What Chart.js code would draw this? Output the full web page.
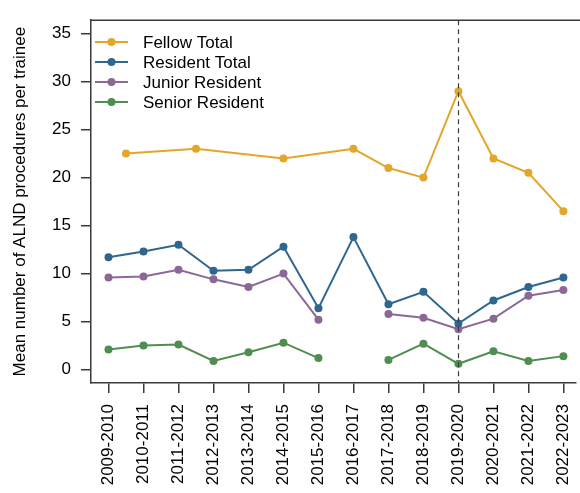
<!DOCTYPE html>
<html>
<head>
<meta charset="utf-8">
<script src="https://cdn.jsdelivr.net/npm/chart.js@4.4.0/dist/chart.umd.min.js"></script>
<style>
    html, body { margin: 0; padding: 0; background: #fff; }
    #wrap { width: 580px; height: 493px; }
</style>
</head>
<body>
<div id="wrap"><canvas id="chart" width="580" height="493"></canvas></div>
<script>
const categories = ['2009-2010', '2010-2011', '2011-2012', '2012-2013', '2013-2014', '2014-2015', '2015-2016',
    '2016-2017', '2017-2018', '2018-2019', '2019-2020', '2020-2021', '2021-2022', '2022-2023'];

// fellow points sit between some years in the source figure
const fellowPos = [0.5, 2.5, 5, 7, 8, 9, 10, 11, 12, 13];
const fellowTotal = [22.5, 23, 22, 23, 21, 20, 29, 22, 20.5, 16.5];

const residentTotal = [11.7, 12.3, 13.0, 10.3, 10.4, 12.8, 6.4, 13.8, 6.8, 8.1, 4.8, 7.2, 8.6, 9.6];
const juniorResident = [9.6, 9.7, 10.4, 9.4, 8.6, 10.0, 5.2, null, 5.8, 5.4, 4.2, 5.3, 7.7, 8.3];
const seniorResident = [2.1, 2.5, 2.6, 0.9, 1.8, 2.8, 1.2, null, 1.0, 2.7, 0.6, 1.9, 0.9, 1.4];

const yTicks = [0, 5, 10, 15, 20, 25, 30, 35];
const markerYear = '2019-2020';

const toPoints = (vals, pos) => vals.map((v, i) => ({ x: pos ? pos[i] : i, y: v }));

Chart.defaults.font.family = "'Liberation Sans', Arial, sans-serif";
Chart.defaults.color = '#000';

const AXIS = '#3a3a3a';

// top frame line, covid marker and the inset legend
const extras = {
    id: 'extras',
    afterDraw(chart) {
        const { ctx, chartArea } = chart;
        const x = chart.scales.x;

        ctx.save();
        ctx.strokeStyle = AXIS;
        ctx.lineWidth = 1.5;
        ctx.beginPath();
        ctx.moveTo(chartArea.left, chartArea.top);
        ctx.lineTo(580, chartArea.top);
        ctx.stroke();

        const mx = Math.round(x.getPixelForValue(categories.indexOf(markerYear))) + 0.5;
        ctx.setLineDash([5, 4]);
        ctx.lineWidth = 1.2;
        ctx.beginPath();
        ctx.moveTo(mx, chartArea.top);
        ctx.lineTo(mx, chartArea.bottom);
        ctx.stroke();
        ctx.setLineDash([]);

        ctx.font = "17px 'Liberation Sans', Arial, sans-serif";
        ctx.textBaseline = 'middle';
        ctx.textAlign = 'left';
        chart.data.datasets.forEach((ds, i) => {
            const y = 42 + i * 20;
            ctx.strokeStyle = ds.borderColor;
            ctx.lineWidth = 2;
            ctx.beginPath();
            ctx.moveTo(95, y);
            ctx.lineTo(128, y);
            ctx.stroke();
            ctx.fillStyle = ds.borderColor;
            ctx.beginPath();
            ctx.arc(111.5, y, 4, 0, Math.PI * 2);
            ctx.fill();
            ctx.fillStyle = '#000';
            ctx.fillText(ds.label, 143, y + 1);
        });
        ctx.restore();
    }
};

function series(label, data, color) {
    return {
        label, data,
        borderColor: color,
        backgroundColor: color,
        borderWidth: 2,
        pointRadius: 4,
        pointBorderWidth: 0,
        pointBackgroundColor: color,
        tension: 0,
        spanGaps: false
    };
}

new Chart(document.getElementById('chart'), {
    type: 'line',
    data: {
        datasets: [
            series('Fellow Total', toPoints(fellowTotal, fellowPos), '#E2A62B'),
            series('Resident Total', toPoints(residentTotal), '#2F6690'),
            series('Junior Resident', toPoints(juniorResident), '#8C6896'),
            series('Senior Resident', toPoints(seniorResident), '#4F8D50')
        ]
    },
    options: {
        responsive: false,
        animation: false,
        devicePixelRatio: 1,
        layout: { padding: { top: 20, right: 0, left: 0, bottom: 0 } },
        plugins: { legend: { display: false }, tooltip: { enabled: false } },
        scales: {
            x: {
                type: 'linear',
                min: -0.5,
                max: 13.36,
                afterBuildTicks: s => { s.ticks = categories.map((_, i) => ({ value: i })); },
                afterFit: s => {
                    s.height = 110;
                    s.paddingLeft = 0;
                    s.paddingRight = 0;
                },
                ticks: {
                    callback: v => categories[v],
                    autoSkip: false,
                    minRotation: 90,
                    maxRotation: 90,
                    padding: 11,
                    font: { size: 17 }
                },
                grid: { drawOnChartArea: false, drawTicks: true, tickLength: 10, color: AXIS, lineWidth: 1.5 },
                border: { display: true, color: AXIS, width: 1.5 }
            },
            y: {
                min: -1.4,
                max: 36.4,
                afterBuildTicks: s => { s.ticks = yTicks.map(v => ({ value: v })); },
                afterFit: s => { s.width = 91; },
                ticks: { padding: 10, font: { size: 17 } },
                grid: { drawOnChartArea: false, drawTicks: true, tickLength: 10, color: AXIS, lineWidth: 1.5 },
                border: { display: true, color: AXIS, width: 1.5 },
                title: {
                    display: true,
                    text: 'Mean number of ALND procedures per trainee',
                    font: { size: 17 },
                    padding: { top: 10, bottom: 0 }
                }
            }
        }
    },
    plugins: [extras]
});
</script>
</body>
</html>
